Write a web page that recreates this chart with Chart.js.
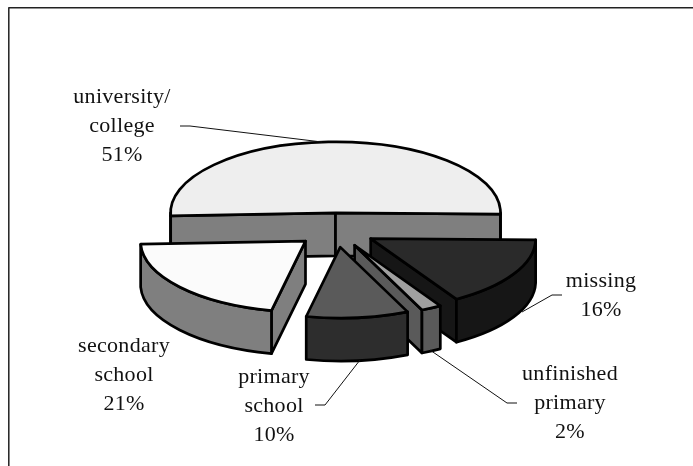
<!DOCTYPE html>
<html>
<head>
<meta charset="utf-8">
<style>
  html, body { margin: 0; padding: 0; background: #fff; }
  #wrap { width: 693px; height: 466px; }
</style>
<script src="https://cdn.jsdelivr.net/npm/chart.js@4"></script>
</head>
<body>
<div id="wrap"><canvas id="pie" width="693" height="466"></canvas></div>
<script>
// Education level shares, clockwise from the left of the pie
const categories = ['university/college', 'missing', 'unfinished primary', 'primary school', 'secondary school'];
const shares = [51, 16, 2, 10, 21];
const topColors = ['#eeeeee', '#2a2a2a', '#a0a0a0', '#5a5a5a', '#fbfbfb'];
const wallColors = ['#7f7f7f', '#161616', '#5a5a5a', '#2d2d2d', '#7f7f7f'];

// Multi-line text of each slice label
const labelLines = [
  ['university/', 'college', '51%'],
  ['missing', '16%'],
  ['unfinished', 'primary', '2%'],
  ['primary', 'school', '10%'],
  ['secondary', 'school', '21%']
];
// Centre x and first baseline y of each label
const labelAnchors = [[122, 103], [601, 287], [570, 380], [274, 383], [124, 352]];
// Leader polylines from label to slice
const leaders = [
  [[180, 126], [190, 126], [322, 142]],
  [[562, 295], [552, 295], [522, 312]],
  [[517, 403], [507, 403], [430, 350]],
  [[315, 405], [325, 405], [360, 360]],
  []
];

const TILT = 0.43;      // vertical squash of the pie plane
const DEPTH = 43;       // height of the extruded walls
const EXPLODE = 40;     // radial separation of every slice, in plan
const LINE_HEIGHT = 29;
const FONT = '22px "Liberation Serif"';
const LETTER_SPACING = '0.3px';

function sliceCentre(arc) {
  const mid = (arc.startAngle + arc.endAngle) / 2;
  return {
    x: arc.x + Math.cos(mid) * EXPLODE,
    y: arc.y + Math.sin(mid) * EXPLODE * TILT
  };
}

function rimPoint(c, r, a, dy) {
  return { x: c.x + Math.cos(a) * r, y: c.y + Math.sin(a) * r * TILT + dy };
}

function fillStroke(ctx, fill) {
  ctx.fillStyle = fill;
  ctx.fill();
  ctx.stroke();
}

function drawWall(ctx, c, r, a, color) {
  const p = rimPoint(c, r, a, 0);
  ctx.beginPath();
  ctx.moveTo(c.x, c.y);
  ctx.lineTo(p.x, p.y);
  ctx.lineTo(p.x, p.y + DEPTH);
  ctx.lineTo(c.x, c.y + DEPTH);
  ctx.closePath();
  fillStroke(ctx, color);
}

// Outer curved wall: only the part of the rim facing the viewer
function drawRim(ctx, c, r, start, end, color) {
  for (let k = -1; k < 3; k++) {
    const a0 = Math.max(start, k * 2 * Math.PI);
    const a1 = Math.min(end, k * 2 * Math.PI + Math.PI);
    if (a1 <= a0) continue;
    ctx.beginPath();
    ctx.ellipse(c.x, c.y, r, r * TILT, 0, a0, a1);
    ctx.ellipse(c.x, c.y + DEPTH, r, r * TILT, 0, a1, a0, true);
    ctx.closePath();
    fillStroke(ctx, color);
  }
}

const pie3d = {
  id: 'pie3d',
  beforeDatasetDraw(chart, args) {
    const ctx = chart.ctx;
    const arcs = chart.getDatasetMeta(args.index).data;
    // Back to front
    const order = [0, 1, 2, 4, 3];
    ctx.lineJoin = 'round';
    for (const i of order) {
      const arc = arcs[i];
      const c = sliceCentre(arc);
      const r = arc.outerRadius;
      ctx.strokeStyle = '#000';
      ctx.lineWidth = 2.7;
      const nStart = arc.startAngle - Math.PI / 2;
      const nEnd = arc.endAngle + Math.PI / 2;
      if (Math.sin(nStart) > 0) drawWall(ctx, c, r, arc.startAngle, wallColors[i]);
      if (Math.sin(nEnd) > 0) drawWall(ctx, c, r, arc.endAngle, wallColors[i]);
      drawRim(ctx, c, r, arc.startAngle, arc.endAngle, wallColors[i]);

      // Top face: the library's arc, squashed into the pie plane
      ctx.save();
      ctx.translate(c.x, c.y);
      ctx.scale(1, TILT);
      ctx.translate(-arc.x, -arc.y);
      arc.draw(ctx);
      ctx.beginPath();
      ctx.moveTo(arc.x, arc.y);
      ctx.arc(arc.x, arc.y, r, arc.startAngle, arc.endAngle);
      ctx.closePath();
      ctx.restore();
      ctx.stroke();
    }
    return false;
  },
  afterDraw(chart) {
    const ctx = chart.ctx;
    ctx.save();
    // Chart frame: top and left rules only, running off the canvas
    ctx.strokeStyle = '#222';
    ctx.lineWidth = 1.5;
    ctx.beginPath();
    ctx.moveTo(693, 7.8);
    ctx.lineTo(8.8, 7.8);
    ctx.lineTo(8.8, 466);
    ctx.stroke();

    // Leaders
    ctx.strokeStyle = '#111';
    ctx.lineWidth = 1;
    for (const line of leaders) {
      if (!line.length) continue;
      ctx.beginPath();
      line.forEach(([x, y], j) => j ? ctx.lineTo(x, y) : ctx.moveTo(x, y));
      ctx.stroke();
    }

    // Labels
    ctx.fillStyle = '#111';
    ctx.font = FONT;
    ctx.letterSpacing = LETTER_SPACING;
    ctx.textAlign = 'center';
    ctx.textBaseline = 'alphabetic';
    labelLines.forEach((lines, i) => {
      const [x, y] = labelAnchors[i];
      lines.forEach((t, j) => ctx.fillText(t, x, y + j * LINE_HEIGHT));
    });
    ctx.restore();
  }
};

new Chart(document.getElementById('pie'), {
  type: 'pie',
  data: {
    labels: categories,
    datasets: [{
      data: shares,
      backgroundColor: topColors,
      borderWidth: 0,
      radius: 165
    }]
  },
  options: {
    responsive: false,
    animation: false,
    rotation: 267.5,
    layout: { padding: { right: 21, bottom: 6 } },
    plugins: { legend: { display: false }, tooltip: { enabled: false } }
  },
  plugins: [pie3d]
});
</script>
</body>
</html>
